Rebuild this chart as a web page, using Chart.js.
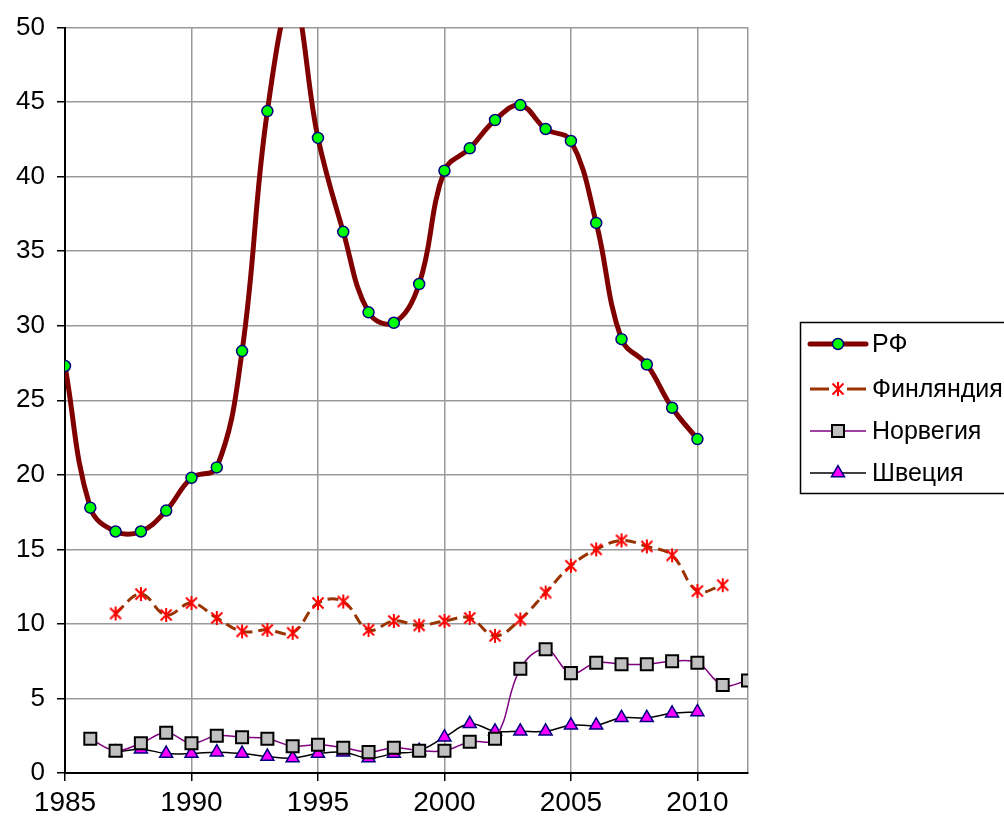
<!DOCTYPE html>
<html>
<head>
<meta charset="utf-8">
<script src="https://cdn.jsdelivr.net/npm/chart.js@4/dist/chart.umd.min.js"></script>
<style>
  html, body { margin: 0; padding: 0; background: #fff; }
  #wrap { width: 1004px; height: 819px; position: relative; }
</style>
</head>
<body>
<div id="wrap"><canvas id="c" width="1004" height="819"></canvas></div>
<script>
// ---- Data ----
const seriesNames = ['РФ', 'Финляндия', 'Норвегия', 'Швеция'];

const rfYears = [1985,1986,1987,1988,1989,1990,1991,1992,1993,1994,1995,1996,1997,1998,1999,2000,2001,2002,2003,2004,2005,2006,2007,2008,2009,2010];
const rfValues = [27.3,17.8,16.2,16.2,17.6,19.8,20.5,28.3,44.4,52.0,42.6,36.3,30.9,30.2,32.8,40.4,41.9,43.8,44.8,43.2,42.4,36.9,29.1,27.4,24.5,22.4];

const finYears = [1987,1988,1989,1990,1991,1992,1993,1994,1995,1996,1997,1998,1999,2000,2001,2002,2003,2004,2005,2006,2007,2008,2009,2010,2011];
const finValues = [10.7,12.0,10.6,11.4,10.4,9.5,9.6,9.4,11.4,11.5,9.6,10.2,9.9,10.2,10.4,9.2,10.3,12.1,13.9,15.0,15.6,15.2,14.6,12.2,12.6];

const norYears = [1986,1987,1988,1989,1990,1991,1992,1993,1994,1995,1996,1997,1998,1999,2000,2001,2002,2003,2004,2005,2006,2007,2008,2009,2010,2011,2012];
const norValues = [2.3,1.5,2.0,2.7,2.0,2.5,2.4,2.3,1.8,1.9,1.7,1.4,1.7,1.5,1.5,2.1,2.3,7.0,8.3,6.7,7.4,7.3,7.3,7.5,7.4,5.9,6.2];

const sweYears = [1987,1988,1989,1990,1991,1992,1993,1994,1995,1996,1997,1998,1999,2000,2001,2002,2003,2004,2005,2006,2007,2008,2009,2010];
const sweValues = [1.4,1.6,1.3,1.3,1.4,1.3,1.1,1.0,1.3,1.4,1.0,1.3,1.5,2.4,3.3,2.8,2.8,2.8,3.2,3.2,3.7,3.7,4.0,4.1];

const xTickValues = [1985,1990,1995,2000,2005,2010,2012];
const xLabelValues = [1985,1990,1995,2000,2005,2010];
const yTickValues = [0,5,10,15,20,25,30,35,40,45,50];

// ---- helpers ----
function pts(xs, ys) { return xs.map((x, i) => ({ x: x, y: ys[i] })); }

// Excel-like star marker (X with vertical bar)
const star = document.createElement('canvas');
star.width = 16; star.height = 16;
(function () {
  const g = star.getContext('2d');
  g.strokeStyle = '#ff0000';
  g.lineWidth = 2;
  g.beginPath();
  g.moveTo(2.5, 2.5); g.lineTo(13.5, 13.5);
  g.moveTo(13.5, 2.5); g.lineTo(2.5, 13.5);
  g.moveTo(8, 1); g.lineTo(8, 15);
  g.stroke();
})();

const FONT = '"Liberation Sans", Arial, sans-serif';

const legendPlugin = {
  id: 'boxLegend',
  afterDraw(chart) {
    const ctx = chart.ctx;
    ctx.save();
    ctx.fillStyle = '#fff';
    ctx.fillRect(800, 322, 260, 171);
    ctx.strokeStyle = '#000';
    ctx.lineWidth = 1.5;
    ctx.strokeRect(800.5, 322.5, 260, 171);
    const rows = [344, 389, 431, 473];
    chart.data.datasets.forEach((ds, i) => {
      const y = rows[i];
      ctx.save();
      ctx.strokeStyle = ds.borderColor;
      ctx.lineWidth = ds.borderWidth;
      ctx.lineCap = i === 0 ? 'round' : 'butt';
      ctx.beginPath();
      if (i === 1) {
        ctx.moveTo(810, y); ctx.lineTo(829, y);
        ctx.moveTo(847, y); ctx.lineTo(866, y);
      } else {
        ctx.moveTo(810, y); ctx.lineTo(866, y);
      }
      ctx.stroke();
      ctx.restore();
      ctx.save();
      ctx.fillStyle = ds.pointBackgroundColor;
      ctx.strokeStyle = ds.pointBorderColor;
      ctx.lineWidth = ds.pointBorderWidth;
      Chart.helpers.drawPoint(ctx, {
        pointStyle: ds.pointStyle,
        radius: ds.pointRadius,
        rotation: 0,
        borderWidth: ds.pointBorderWidth
      }, 838, y);
      ctx.restore();
      ctx.fillStyle = '#000';
      ctx.font = '25px ' + FONT;
      ctx.textBaseline = 'middle';
      ctx.textAlign = 'left';
      ctx.fillText(ds.label, 872, y + 1);
    });
    ctx.restore();
  }
};

new Chart(document.getElementById('c'), {
  type: 'line',
  data: {
    datasets: [
      {
        label: seriesNames[0],
        data: pts(rfYears, rfValues),
        borderColor: '#800000',
        borderWidth: 5,
        tension: 0.4,
        pointStyle: 'circle',
        pointRadius: 5.5,
        pointBackgroundColor: '#00ff00',
        pointBorderColor: '#000080',
        pointBorderWidth: 1.5
      },
      {
        label: seriesNames[1],
        data: pts(finYears, finValues),
        borderColor: '#993300',
        borderWidth: 3,
        borderDash: [11, 6],
        tension: 0.4,
        pointStyle: star,
        pointRadius: 7,
        pointBackgroundColor: '#ff0000',
        pointBorderColor: '#ff0000',
        pointBorderWidth: 1.5
      },
      {
        label: seriesNames[2],
        data: pts(norYears, norValues),
        borderColor: '#800080',
        borderWidth: 1.5,
        tension: 0.4,
        pointStyle: 'rect',
        pointRadius: 8.5,
        pointBackgroundColor: '#c0c0c0',
        pointBorderColor: '#000000',
        pointBorderWidth: 2
      },
      {
        label: seriesNames[3],
        data: pts(sweYears, sweValues),
        borderColor: '#000000',
        borderWidth: 1.5,
        tension: 0.4,
        pointStyle: 'triangle',
        pointRadius: 7.5,
        pointBackgroundColor: '#ff00ff',
        pointBorderColor: '#000080',
        pointBorderWidth: 1.5
      }
    ]
  },
  options: {
    responsive: false,
    animation: false,
    devicePixelRatio: 1,
    layout: { padding: { top: 25, right: 256, left: 0, bottom: 0 } },
    plugins: { legend: { display: false }, tooltip: { enabled: false } },
    scales: {
      x: {
        type: 'linear',
        min: 1985,
        max: 2012,
        afterBuildTicks(scale) { scale.ticks = xTickValues.map(v => ({ value: v })); },
        afterFit(scale) { scale.height = 46; },
        ticks: {
          autoSkip: false,
          maxRotation: 0,
          padding: 5,
          color: '#000',
          font: { family: FONT, size: 28 },
          callback: v => xLabelValues.includes(v) ? String(v) : ''
        },
        grid: {
          color: '#999999',
          lineWidth: 1.5,
          tickColor: ctx => (ctx.tick && xLabelValues.includes(ctx.tick.value)) ? '#000' : 'rgba(0,0,0,0)',
          tickLength: 8
        },
        border: { color: '#000', width: 2 }
      },
      y: {
        min: 0,
        max: 50,
        afterBuildTicks(scale) { scale.ticks = yTickValues.map(v => ({ value: v })); },
        afterFit(scale) { scale.width = 65; },
        ticks: {
          padding: 12,
          color: '#000',
          font: { family: FONT, size: 26 }
        },
        grid: { color: '#999999', lineWidth: 1.5, tickColor: '#000', tickLength: 8 },
        border: { color: '#000', width: 2 }
      }
    }
  },
  plugins: [legendPlugin]
});
</script>
</body>
</html>
